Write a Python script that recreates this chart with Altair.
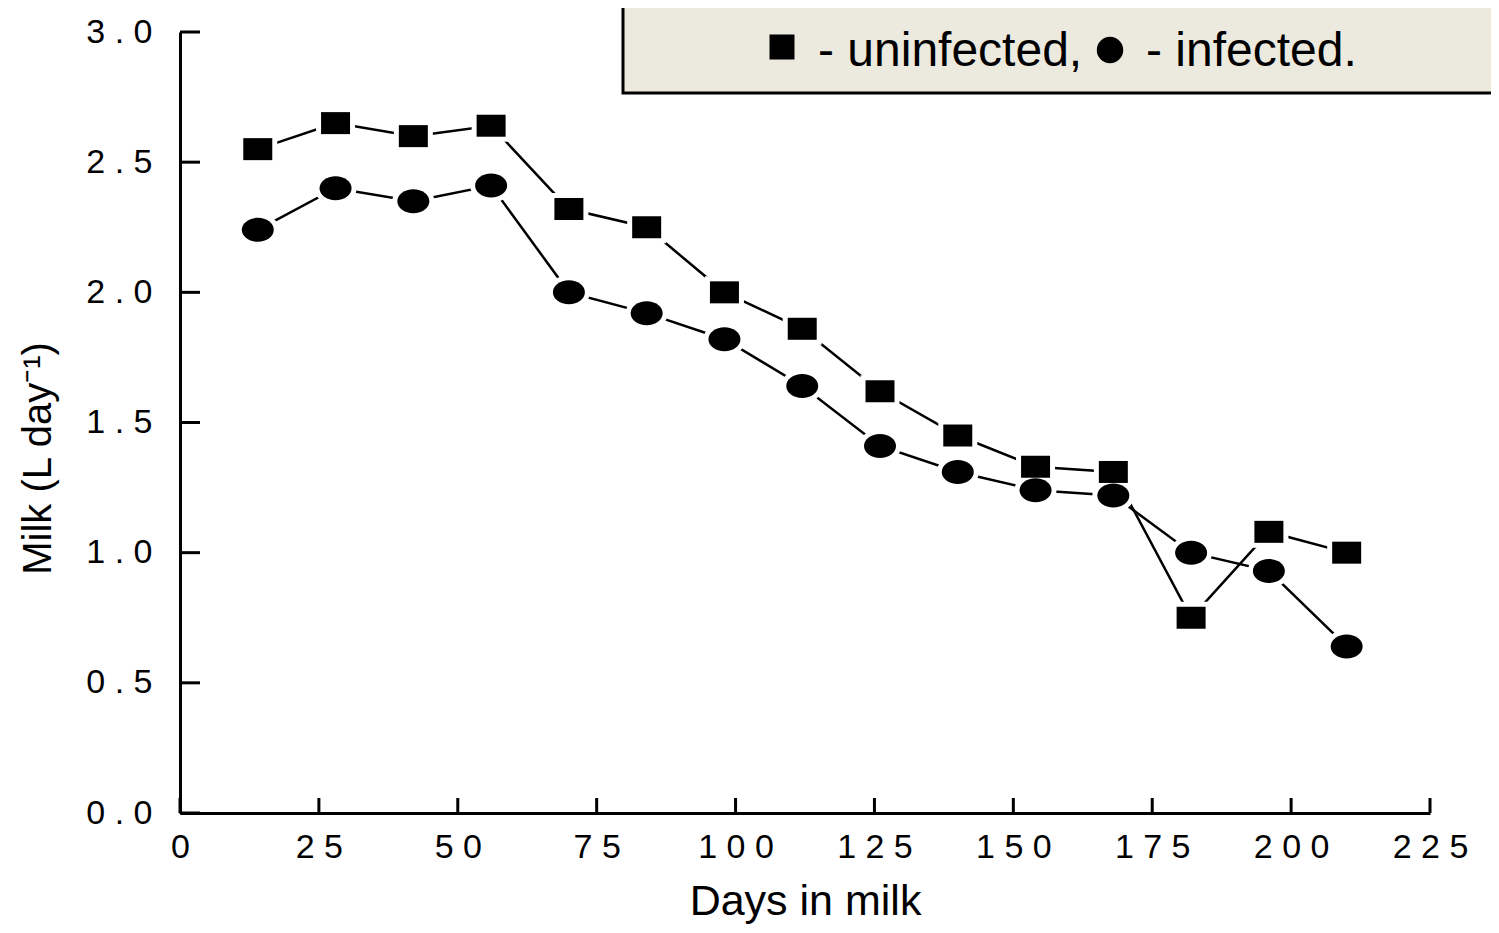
import altair as alt
import pandas as pd

# ---- data ----
days = [14, 28, 42, 56, 70, 84, 98, 112, 126, 140, 154, 168, 182, 196, 210]
uninfected = [2.55, 2.65, 2.60, 2.64, 2.32, 2.25, 2.00, 1.86, 1.62, 1.45, 1.33, 1.31, 0.75, 1.08, 1.00]
infected = [2.24, 2.40, 2.35, 2.41, 2.00, 1.92, 1.82, 1.64, 1.41, 1.31, 1.24, 1.22, 1.00, 0.93, 0.64]
x_ticks = [0, 25, 50, 75, 100, 125, 150, 175, 200, 225]
y_ticks = [0.0, 0.5, 1.0, 1.5, 2.0, 2.5, 3.0]
groups = ["uninfected", "infected"]
legend_labels = ["- uninfected,", "- infected."]
x_title = "Days in milk"
y_title = "Milk (L day\u207b\u00b9)"

SQUARE = "M-0.906,-0.6875H0.906V0.6875H-0.906Z"
ELLIPSE = "M-1,0A1,0.75,0,1,1,1,0A1,0.75,0,1,1,-1,0Z"

df = pd.DataFrame({
    "day": days + days,
    "milk": uninfected + infected,
    "group": [groups[0]] * len(days) + [groups[1]] * len(days),
})

FONT = "Liberation Sans"
xscale = alt.Scale(domain=[0, 225], nice=False, zero=False)
yscale = alt.Scale(domain=[0, 3], nice=False, zero=False)
spaced = "replace(datum.label, regexp('(.)(?=.)', 'g'), '$1 ')"

xaxis = alt.Axis(
    values=x_ticks, format="d", labelExpr=spaced, ticks=False, tickSize=0, grid=False,
    domainColor="black", domainWidth=3, labelFont=FONT, labelFontSize=34,
    labelColor="black", labelPadding=17, labelFlush=False, labelOverlap=False,
    title=x_title, titleFont=FONT, titleFontSize=43, titleFontWeight="normal",
    titleColor="black", titleBaseline="alphabetic", titleY=101,
)
yaxis = alt.Axis(
    values=y_ticks, format=".1f", labelExpr=spaced, ticks=False, tickSize=0, grid=False,
    domainColor="black", domainWidth=3, labelFont=FONT, labelFontSize=34,
    labelColor="black", labelPadding=28, labelFlush=False, labelOverlap=False,
    title=y_title, titleFont=FONT, titleFontSize=40, titleFontWeight="normal",
    titleColor="black", titleBaseline="alphabetic", titleX=-130, titleY=426,
)

shape_enc = alt.Shape("group:N", scale=alt.Scale(domain=groups, range=[SQUARE, ELLIPSE]), legend=None)

X = alt.X("day:Q", scale=xscale, axis=xaxis)
Y = alt.Y("milk:Q", scale=yscale, axis=yaxis)

base = alt.Chart(df)

lines = base.mark_line(color="black", strokeWidth=2.5).encode(x=X, y=Y, detail="group:N")

halo = base.mark_point(filled=True, color="white", stroke="white", strokeWidth=10,
                       opacity=1, size=1024).encode(x=X, y=Y, shape=shape_enc)

markers = base.mark_point(filled=True, color="black", opacity=1, size=1024,
                          strokeWidth=0).encode(x=X, y=Y, shape=shape_enc)

xt = alt.Chart(pd.DataFrame({"day": x_ticks})).mark_rule(color="black", strokeWidth=3).encode(
    x=X, y=alt.value(781), y2=alt.value(766),
)
yt = alt.Chart(pd.DataFrame({"milk": y_ticks})).mark_rule(color="black", strokeWidth=3).encode(
    y=Y, x=alt.value(0), x2=alt.value(20),
)

# ---- legend box ----
one = pd.DataFrame({"a": [0]})
box = alt.Chart(one).mark_rect(fill="#ECE9DF", stroke="black", strokeWidth=3).encode(
    x=alt.value(443), x2=alt.value(1340), y=alt.value(-30), y2=alt.value(61),
)
leg_sq = alt.Chart(one).mark_point(shape="square", filled=True, color="black", opacity=1,
                                   size=625, strokeWidth=0).encode(
    x=alt.value(602), y=alt.value(15),
)
leg_ci = alt.Chart(one).mark_point(shape="circle", filled=True, color="black", opacity=1,
                                   size=700, strokeWidth=0).encode(
    x=alt.value(930), y=alt.value(18),
)
leg_t1 = alt.Chart(pd.DataFrame({"label": [legend_labels[0]]})).mark_text(
    font=FONT, fontSize=48, color="black", align="left", baseline="alphabetic").encode(
    x=alt.value(638), y=alt.value(34), text="label:N",
)
leg_t2 = alt.Chart(pd.DataFrame({"label": [legend_labels[1]]})).mark_text(
    font=FONT, fontSize=48, color="black", align="left", baseline="alphabetic").encode(
    x=alt.value(966), y=alt.value(34), text="label:N",
)

chart = alt.layer(box, lines, halo, markers, xt, yt, leg_sq, leg_ci, leg_t1, leg_t2).properties(
    width=1250, height=781,
    autosize=alt.AutoSizeParams(type="none"),
    padding={"left": 172, "top": 24, "right": 61, "bottom": 112},
    background="white",
).configure_view(stroke=None)

chart.save("out.html", embed_options={"renderer": "svg", "actions": False})
